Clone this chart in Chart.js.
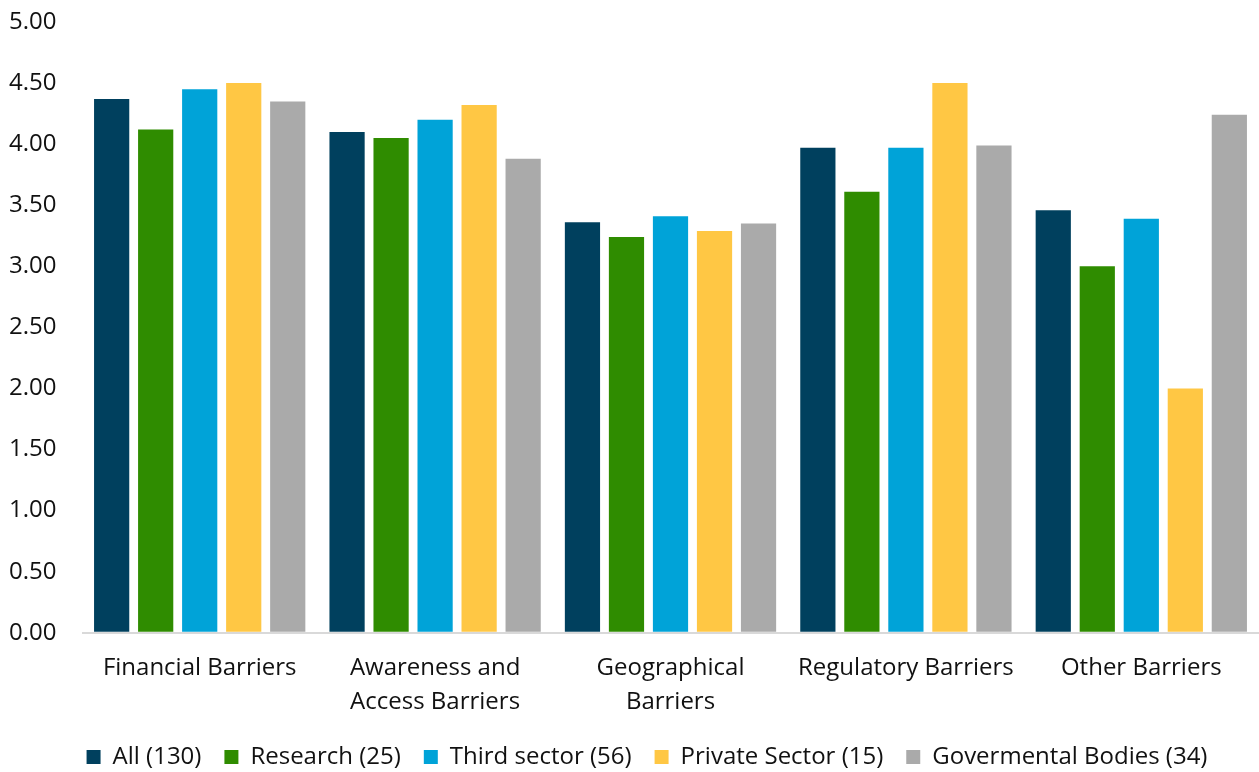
<!DOCTYPE html>
<html>
<head>
<meta charset="utf-8">
<script src="https://cdn.jsdelivr.net/npm/chart.js@4"></script>
<style>
  body { margin: 0; background: #fff; }
  #wrap { width: 1259px; height: 772px; }
</style>
</head>
<body>
<div id="wrap"><canvas id="barriers"></canvas></div>
<script>
const categories = [
    'Financial Barriers',
    ['Awareness and', 'Access Barriers'],
    ['Geographical', 'Barriers'],
    'Regulatory Barriers',
    'Other Barriers'
];
const seriesNames = ['All (130)', 'Research (25)', 'Third sector (56)', 'Private Sector (15)', 'Govermental Bodies (34)'];
const allValues = [4.37, 4.10, 3.36, 3.97, 3.46];
const researchValues = [4.12, 4.05, 3.24, 3.61, 3.00];
const thirdSectorValues = [4.45, 4.20, 3.41, 3.97, 3.39];
const privateValues = [4.50, 4.32, 3.29, 4.50, 2.00];
const govValues = [4.35, 3.88, 3.35, 3.99, 4.24];
const yTicks = [0, 0.5, 1, 1.5, 2, 2.5, 3, 3.5, 4, 4.5, 5];

const colors = ['#00405E', '#2F8C00', '#00A3D8', '#FFC744', '#AAAAAA'];
const seriesValues = [allValues, researchValues, thirdSectorValues, privateValues, govValues];

const font = { family: '"Open Sans", sans-serif', size: 24 };

// nudge the legend row a little right and up from where the layout puts it
const legendNudge = {
    id: 'legendNudge',
    afterLayout(chart) {
        const lg = chart.legend;
        lg.left += 13;
        lg.right += 13;
        lg.top -= 8;
        lg.bottom -= 8;
    }
};

new Chart(document.getElementById('barriers'), {
    type: 'bar',
    data: {
        labels: categories,
        datasets: seriesNames.map((name, i) => ({
            label: name,
            data: seriesValues[i],
            backgroundColor: colors[i],
            categoryPercentage: 0.935,
            barPercentage: 0.8
        }))
    },
    plugins: [legendNudge],
    options: {
        responsive: true,
        maintainAspectRatio: false,
        animation: false,
        layout: { padding: { top: 22, right: 0, bottom: -15, left: 9 } },
        plugins: {
            tooltip: { enabled: false },
            legend: {
                position: 'bottom',
                labels: {
                    boxWidth: 14,
                    boxHeight: 14,
                    padding: 23,
                    color: '#111',
                    font: font
                }
            }
        },
        scales: {
            x: {
                grid: { display: false },
                border: { display: false },
                ticks: { color: '#111', font: { ...font, lineHeight: 1.4 }, padding: 11, maxRotation: 0 }
            },
            y: {
                min: 0,
                max: 5,
                afterFit: s => { s.width = 73; },
                afterBuildTicks: s => { s.ticks = yTicks.map(v => ({ value: v })); },
                border: { display: false },
                grid: {
                    drawTicks: false,
                    lineWidth: 2,
                    color: c => c.tick.value === 0 ? '#d9d9d9' : 'rgba(0,0,0,0)'
                },
                ticks: {
                    color: '#111',
                    font: font,
                    padding: 0,
                    crossAlign: 'far',
                    callback: v => Number(v).toFixed(2)
                }
            }
        }
    }
});
</script>
</body>
</html>
